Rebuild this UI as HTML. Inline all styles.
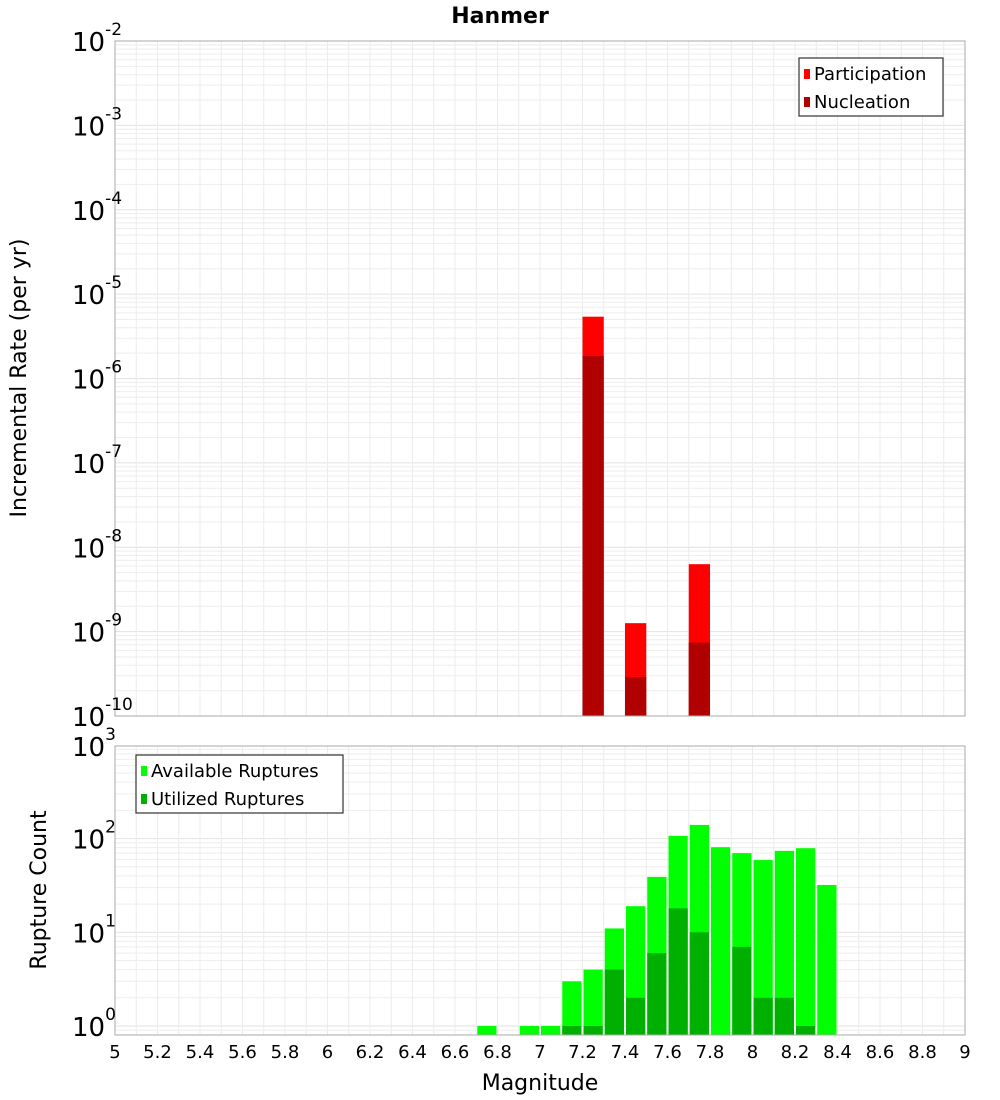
<!DOCTYPE html>
<html><head><meta charset="utf-8"><style>
html,body{margin:0;padding:0;background:#fff}
svg{display:block;font-family:"DejaVu Sans","Liberation Sans",sans-serif}
</style></head><body>
<svg id="chart" width="1000" height="1100" xmlns="http://www.w3.org/2000/svg"></svg>
<script>
const topMags = [7.25, 7.45, 7.75];
const participation = [5.4e-6, 1.26e-9, 6.3e-9];
const nucleation = [1.85e-6, 2.9e-10, 7.4e-10];
const botMags = [6.75,6.95,7.05,7.15,7.25,7.35,7.45,7.55,7.65,7.75,7.85,7.95,8.05,8.15,8.25,8.35];
const available = [1,1,1,3,4,11,19,39,107,140,81,70,59,74,79,32];
const utilized = [0,0,0,1,1,4,2,6,18,10,0,7,2,2,1,0];
const xTicks = [5,5.2,5.4,5.6,5.8,6,6.2,6.4,6.6,6.8,7,7.2,7.4,7.6,7.8,8,8.2,8.4,8.6,8.8,9];
const topExps = [-2,-3,-4,-5,-6,-7,-8,-9,-10];
const botExps = [3,2,1,0];

const NS="http://www.w3.org/2000/svg";
const svg=document.getElementById('chart');
function mk(tag,attrs,parent){const e=document.createElementNS(NS,tag);for(const k in attrs)e.setAttribute(k,attrs[k]);(parent||svg).appendChild(e);return e;}
const X0=115,X1=965;
const x=v=>X0+(v-5)/4*(X1-X0);
const T0=41,T1=716;
const yT=v=>T0+(-2-Math.log10(v))/8*(T1-T0);
const B0=746,B1=1035,BK=93.7,BBase=1026;
const yB=v=>BBase-Math.log10(v)*BK;

// title
let t=mk('text',{x:500,y:23,'text-anchor':'middle','font-size':22,'font-weight':'bold'});
t.textContent='Hanmer';



function grid(y0,y1,yf,lo,hi){
  const g=mk('g',{});
  
  
  for(let e=lo;e<hi;e++)for(let m=1;m<10;m++){const v=m*Math.pow(10,e);const yy=yf(v);if(yy<y0||yy>y1)continue;
    mk('line',{x1:X0,x2:X1,y1:yy,y2:yy,stroke:m==1?'#e2e2e2':'#eeeeee','stroke-width':1},g);}
  for(let v=5;v<=9.001;v+=0.1){const xx=x(v);mk('line',{x1:xx,x2:xx,y1:y0,y2:y1,stroke:'#ececec','stroke-width':1},g);}
}
grid(T0,T1,yT,-10,-2);
grid(B0,B1,yB,-1,3);

// top bars
topMags.forEach((m,i)=>{
  let r=mk('rect',{x:x(m-0.05),width:x(m+0.05)-x(m-0.05),y:yT(participation[i]),height:T1-yT(participation[i]),fill:'#ff0000'});
  
  
  r=mk('rect',{x:x(m-0.05),width:x(m+0.05)-x(m-0.05),y:yT(nucleation[i]),height:T1-yT(nucleation[i]),fill:'#b00000'});
  
  
});
// bottom bars
botMags.forEach((m,i)=>{
  const xl=x(m-0.05)+1,w=x(m+0.05)-x(m-0.05)-2;
  let r=mk('rect',{x:xl,width:w,y:yB(available[i]),height:B1-yB(available[i]),fill:'#00ff00'});
  
  
  if(utilized[i]>0){
    r=mk('rect',{x:xl,width:w,y:yB(utilized[i]),height:B1-yB(utilized[i]),fill:'#00b000'});
    
    
  }
});

// frames
let f=mk('rect',{x:X0,y:T0,width:X1-X0,height:T1-T0,fill:'none',stroke:'#aaaaaa'});


f=mk('rect',{x:X0,y:B0,width:X1-X0,height:B1-B0,fill:'none',stroke:'#aaaaaa'});



function ylab(yy,e,name){
  const tx=mk('text',{x:72,y:yy+10,'font-size':26});
  
  
  tx.textContent='10';
  const s=mk('tspan',{dy:-16,'font-size':17},tx);
  s.textContent=String(e);
}
topExps.forEach(e=>ylab(yT(Math.pow(10,e)),e,'y-tick-label'));
botExps.forEach(e=>ylab(e==3?B0:yB(Math.pow(10,e)),e,'y2-tick-label'));

xTicks.forEach(v=>{
  const tx=mk('text',{x:x(v),y:1058,'text-anchor':'middle','font-size':18});
  
  
  tx.textContent=String(v);
});
t=mk('text',{x:540,y:1090,'text-anchor':'middle','font-size':22});
t.textContent='Magnitude';


t=mk('text',{x:0,y:0,'text-anchor':'middle','font-size':22,transform:'translate(26,378) rotate(-90)'});
t.textContent='Incremental Rate (per yr)';


t=mk('text',{x:0,y:0,'text-anchor':'middle','font-size':22,transform:'translate(46,890) rotate(-90)'});
t.textContent='Rupture Count';



function legend(lx,ly,w,items,name){
  const g=mk('g',{});
  
  
  mk('rect',{x:lx,y:ly,width:w,height:58,fill:'#fff',stroke:'#333','stroke-width':1.2},g);
  items.forEach((it,i)=>{
    mk('rect',{x:lx+5,y:ly+11+i*28,width:6,height:10,fill:it[1]},g);
    const tx=mk('text',{x:lx+15,y:ly+22+i*28,'font-size':18},g);
    tx.textContent=it[0];
  });
}
legend(799,58,144,[['Participation','#ff0000'],['Nucleation','#b00000']],'top-legend');
legend(136,755,207,[['Available Ruptures','#00ff00'],['Utilized Ruptures','#00b000']],'bottom-legend');
</script>
</body></html>
